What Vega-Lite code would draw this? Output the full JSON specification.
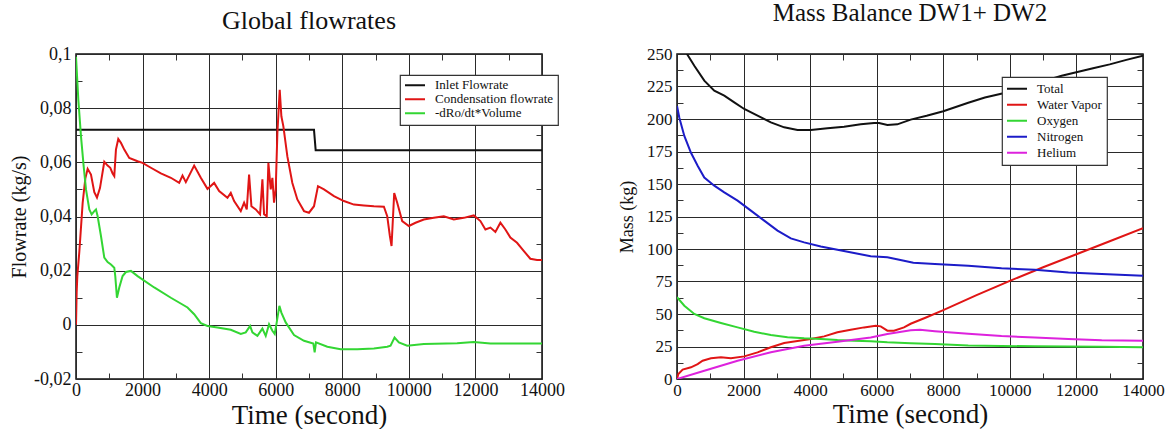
{
  "$schema": "https://vega.github.io/schema/vega-lite/v6.json",
  "padding": {"left": 8, "top": 0, "right": 0, "bottom": 0},
  "background": "white",
  "bounds": "flush",
  "spacing": 135,
  "resolve": {"scale": {"color": "independent"}, "legend": {"color": "independent"}},
  "config": {
    "font": "Liberation Serif",
    "locale": {"number": {"decimal": ",", "thousands": "", "grouping": [3], "currency": ["", ""], "minus": "-"}},
    "view": {"stroke": "#111111", "strokeWidth": 1.5},
    "axis": {"gridColor": "#2a2a2a", "gridOpacity": 1, "gridWidth": 1, "domain": false, "ticks": false, "labelColor": "#111111", "titleColor": "#111111", "titleFontWeight": "normal", "labelOverlap": false, "labelFlush": false, "tickColor": "#333333", "tickWidth": 1},
    "legend": {"fillColor": "white", "strokeColor": "#333333", "strokeWidth": 1.2, "cornerRadius": 0, "symbolType": "stroke", "symbolStrokeWidth": 2, "labelFont": "Liberation Serif", "labelColor": "#111111", "title": null},
    "title": {"fontWeight": "normal", "color": "#111111", "anchor": "middle"}
  },
  "datasets": {
    "flow": [
      {"s": "Inlet Flowrate", "t": 0, "v": 0.072},
      {"s": "Inlet Flowrate", "t": 7150, "v": 0.072},
      {"s": "Inlet Flowrate", "t": 7200, "v": 0.0645},
      {"s": "Inlet Flowrate", "t": 14000, "v": 0.0645},
      {"s": "Condensation flowrate", "t": 0, "v": 0},
      {"s": "Condensation flowrate", "t": 20, "v": 0.012},
      {"s": "Condensation flowrate", "t": 40, "v": 0.018},
      {"s": "Condensation flowrate", "t": 100, "v": 0.027},
      {"s": "Condensation flowrate", "t": 200, "v": 0.045},
      {"s": "Condensation flowrate", "t": 280, "v": 0.054},
      {"s": "Condensation flowrate", "t": 350, "v": 0.0576},
      {"s": "Condensation flowrate", "t": 450, "v": 0.0555},
      {"s": "Condensation flowrate", "t": 550, "v": 0.049},
      {"s": "Condensation flowrate", "t": 630, "v": 0.047},
      {"s": "Condensation flowrate", "t": 720, "v": 0.0505},
      {"s": "Condensation flowrate", "t": 850, "v": 0.0602},
      {"s": "Condensation flowrate", "t": 950, "v": 0.0588},
      {"s": "Condensation flowrate", "t": 1030, "v": 0.058},
      {"s": "Condensation flowrate", "t": 1100, "v": 0.0559},
      {"s": "Condensation flowrate", "t": 1150, "v": 0.0549},
      {"s": "Condensation flowrate", "t": 1200, "v": 0.0647},
      {"s": "Condensation flowrate", "t": 1270, "v": 0.0686},
      {"s": "Condensation flowrate", "t": 1350, "v": 0.0672},
      {"s": "Condensation flowrate", "t": 1450, "v": 0.0647},
      {"s": "Condensation flowrate", "t": 1600, "v": 0.0616},
      {"s": "Condensation flowrate", "t": 1850, "v": 0.0604},
      {"s": "Condensation flowrate", "t": 2000, "v": 0.0598},
      {"s": "Condensation flowrate", "t": 2250, "v": 0.058},
      {"s": "Condensation flowrate", "t": 2550, "v": 0.0559},
      {"s": "Condensation flowrate", "t": 2850, "v": 0.0543},
      {"s": "Condensation flowrate", "t": 3100, "v": 0.0524},
      {"s": "Condensation flowrate", "t": 3200, "v": 0.0551},
      {"s": "Condensation flowrate", "t": 3300, "v": 0.0527},
      {"s": "Condensation flowrate", "t": 3550, "v": 0.0588},
      {"s": "Condensation flowrate", "t": 3750, "v": 0.0543},
      {"s": "Condensation flowrate", "t": 3950, "v": 0.0502},
      {"s": "Condensation flowrate", "t": 4150, "v": 0.0524},
      {"s": "Condensation flowrate", "t": 4300, "v": 0.0494},
      {"s": "Condensation flowrate", "t": 4550, "v": 0.0469},
      {"s": "Condensation flowrate", "t": 4650, "v": 0.0487},
      {"s": "Condensation flowrate", "t": 4750, "v": 0.0457},
      {"s": "Condensation flowrate", "t": 4950, "v": 0.042},
      {"s": "Condensation flowrate", "t": 5050, "v": 0.0451},
      {"s": "Condensation flowrate", "t": 5130, "v": 0.0426},
      {"s": "Condensation flowrate", "t": 5200, "v": 0.0555},
      {"s": "Condensation flowrate", "t": 5270, "v": 0.0438},
      {"s": "Condensation flowrate", "t": 5400, "v": 0.0426},
      {"s": "Condensation flowrate", "t": 5530, "v": 0.0408},
      {"s": "Condensation flowrate", "t": 5600, "v": 0.0537},
      {"s": "Condensation flowrate", "t": 5650, "v": 0.0408},
      {"s": "Condensation flowrate", "t": 5730, "v": 0.0401},
      {"s": "Condensation flowrate", "t": 5780, "v": 0.0598},
      {"s": "Condensation flowrate", "t": 5850, "v": 0.05},
      {"s": "Condensation flowrate", "t": 5900, "v": 0.0543},
      {"s": "Condensation flowrate", "t": 5950, "v": 0.0451},
      {"s": "Condensation flowrate", "t": 6000, "v": 0.05},
      {"s": "Condensation flowrate", "t": 6050, "v": 0.0708},
      {"s": "Condensation flowrate", "t": 6120, "v": 0.0868},
      {"s": "Condensation flowrate", "t": 6170, "v": 0.077},
      {"s": "Condensation flowrate", "t": 6230, "v": 0.0733},
      {"s": "Condensation flowrate", "t": 6350, "v": 0.0622},
      {"s": "Condensation flowrate", "t": 6500, "v": 0.0524},
      {"s": "Condensation flowrate", "t": 6650, "v": 0.0463},
      {"s": "Condensation flowrate", "t": 6850, "v": 0.042},
      {"s": "Condensation flowrate", "t": 7000, "v": 0.0414},
      {"s": "Condensation flowrate", "t": 7150, "v": 0.0438},
      {"s": "Condensation flowrate", "t": 7270, "v": 0.0512},
      {"s": "Condensation flowrate", "t": 7450, "v": 0.05},
      {"s": "Condensation flowrate", "t": 7750, "v": 0.0475},
      {"s": "Condensation flowrate", "t": 8050, "v": 0.0457},
      {"s": "Condensation flowrate", "t": 8350, "v": 0.0444},
      {"s": "Condensation flowrate", "t": 8650, "v": 0.0441},
      {"s": "Condensation flowrate", "t": 8950, "v": 0.0438},
      {"s": "Condensation flowrate", "t": 9250, "v": 0.0436},
      {"s": "Condensation flowrate", "t": 9350, "v": 0.0401},
      {"s": "Condensation flowrate", "t": 9430, "v": 0.0328},
      {"s": "Condensation flowrate", "t": 9480, "v": 0.0291},
      {"s": "Condensation flowrate", "t": 9560, "v": 0.0487},
      {"s": "Condensation flowrate", "t": 9650, "v": 0.0451},
      {"s": "Condensation flowrate", "t": 9800, "v": 0.0383},
      {"s": "Condensation flowrate", "t": 10000, "v": 0.0365},
      {"s": "Condensation flowrate", "t": 10200, "v": 0.0377},
      {"s": "Condensation flowrate", "t": 10450, "v": 0.0389},
      {"s": "Condensation flowrate", "t": 10750, "v": 0.0395},
      {"s": "Condensation flowrate", "t": 11050, "v": 0.0401},
      {"s": "Condensation flowrate", "t": 11350, "v": 0.0389},
      {"s": "Condensation flowrate", "t": 11650, "v": 0.0395},
      {"s": "Condensation flowrate", "t": 11950, "v": 0.0404},
      {"s": "Condensation flowrate", "t": 12150, "v": 0.0383},
      {"s": "Condensation flowrate", "t": 12300, "v": 0.0352},
      {"s": "Condensation flowrate", "t": 12450, "v": 0.0359},
      {"s": "Condensation flowrate", "t": 12600, "v": 0.0343},
      {"s": "Condensation flowrate", "t": 12750, "v": 0.0377},
      {"s": "Condensation flowrate", "t": 12900, "v": 0.0352},
      {"s": "Condensation flowrate", "t": 13050, "v": 0.0322},
      {"s": "Condensation flowrate", "t": 13250, "v": 0.0303},
      {"s": "Condensation flowrate", "t": 13450, "v": 0.0273},
      {"s": "Condensation flowrate", "t": 13650, "v": 0.0244},
      {"s": "Condensation flowrate", "t": 13850, "v": 0.0239},
      {"s": "Condensation flowrate", "t": 14000, "v": 0.0239},
      {"s": "-dRo/dt*Volume", "t": 0, "v": 0.099},
      {"s": "-dRo/dt*Volume", "t": 70, "v": 0.0831},
      {"s": "-dRo/dt*Volume", "t": 150, "v": 0.0696},
      {"s": "-dRo/dt*Volume", "t": 230, "v": 0.0586},
      {"s": "-dRo/dt*Volume", "t": 300, "v": 0.05},
      {"s": "-dRo/dt*Volume", "t": 400, "v": 0.0426},
      {"s": "-dRo/dt*Volume", "t": 470, "v": 0.0408},
      {"s": "-dRo/dt*Volume", "t": 550, "v": 0.042},
      {"s": "-dRo/dt*Volume", "t": 600, "v": 0.0426},
      {"s": "-dRo/dt*Volume", "t": 650, "v": 0.0401},
      {"s": "-dRo/dt*Volume", "t": 750, "v": 0.0328},
      {"s": "-dRo/dt*Volume", "t": 850, "v": 0.0248},
      {"s": "-dRo/dt*Volume", "t": 950, "v": 0.0232},
      {"s": "-dRo/dt*Volume", "t": 1050, "v": 0.0223},
      {"s": "-dRo/dt*Volume", "t": 1150, "v": 0.0211},
      {"s": "-dRo/dt*Volume", "t": 1180, "v": 0.018},
      {"s": "-dRo/dt*Volume", "t": 1230, "v": 0.01},
      {"s": "-dRo/dt*Volume", "t": 1300, "v": 0.0138},
      {"s": "-dRo/dt*Volume", "t": 1400, "v": 0.018},
      {"s": "-dRo/dt*Volume", "t": 1500, "v": 0.0195},
      {"s": "-dRo/dt*Volume", "t": 1650, "v": 0.0199},
      {"s": "-dRo/dt*Volume", "t": 1850, "v": 0.018},
      {"s": "-dRo/dt*Volume", "t": 2350, "v": 0.0138},
      {"s": "-dRo/dt*Volume", "t": 2850, "v": 0.01},
      {"s": "-dRo/dt*Volume", "t": 3350, "v": 0.0064},
      {"s": "-dRo/dt*Volume", "t": 3550, "v": 0.0039},
      {"s": "-dRo/dt*Volume", "t": 3750, "v": 0.0006},
      {"s": "-dRo/dt*Volume", "t": 3950, "v": -0.0004},
      {"s": "-dRo/dt*Volume", "t": 4250, "v": -0.001},
      {"s": "-dRo/dt*Volume", "t": 4650, "v": -0.0018},
      {"s": "-dRo/dt*Volume", "t": 4950, "v": -0.0034},
      {"s": "-dRo/dt*Volume", "t": 5100, "v": -0.0028},
      {"s": "-dRo/dt*Volume", "t": 5230, "v": -0.0004},
      {"s": "-dRo/dt*Volume", "t": 5300, "v": -0.0028},
      {"s": "-dRo/dt*Volume", "t": 5450, "v": -0.0041},
      {"s": "-dRo/dt*Volume", "t": 5600, "v": -0.0014},
      {"s": "-dRo/dt*Volume", "t": 5700, "v": -0.0041},
      {"s": "-dRo/dt*Volume", "t": 5800, "v": 0.0002},
      {"s": "-dRo/dt*Volume", "t": 5900, "v": -0.0022},
      {"s": "-dRo/dt*Volume", "t": 5970, "v": -0.0034},
      {"s": "-dRo/dt*Volume", "t": 6030, "v": 0.0009},
      {"s": "-dRo/dt*Volume", "t": 6110, "v": 0.007},
      {"s": "-dRo/dt*Volume", "t": 6170, "v": 0.0045},
      {"s": "-dRo/dt*Volume", "t": 6300, "v": 0.0009},
      {"s": "-dRo/dt*Volume", "t": 6550, "v": -0.0038},
      {"s": "-dRo/dt*Volume", "t": 6850, "v": -0.0059},
      {"s": "-dRo/dt*Volume", "t": 7130, "v": -0.0069},
      {"s": "-dRo/dt*Volume", "t": 7170, "v": -0.0102},
      {"s": "-dRo/dt*Volume", "t": 7210, "v": -0.0065},
      {"s": "-dRo/dt*Volume", "t": 7550, "v": -0.0081},
      {"s": "-dRo/dt*Volume", "t": 7950, "v": -0.009},
      {"s": "-dRo/dt*Volume", "t": 8450, "v": -0.009},
      {"s": "-dRo/dt*Volume", "t": 8950, "v": -0.0087},
      {"s": "-dRo/dt*Volume", "t": 9350, "v": -0.0081},
      {"s": "-dRo/dt*Volume", "t": 9450, "v": -0.0077},
      {"s": "-dRo/dt*Volume", "t": 9570, "v": -0.0047},
      {"s": "-dRo/dt*Volume", "t": 9700, "v": -0.0065},
      {"s": "-dRo/dt*Volume", "t": 9950, "v": -0.0077},
      {"s": "-dRo/dt*Volume", "t": 10450, "v": -0.0071},
      {"s": "-dRo/dt*Volume", "t": 11450, "v": -0.0068},
      {"s": "-dRo/dt*Volume", "t": 11950, "v": -0.0063},
      {"s": "-dRo/dt*Volume", "t": 12450, "v": -0.0069},
      {"s": "-dRo/dt*Volume", "t": 14000, "v": -0.0069}
    ],
    "mass": [
      {"s": "Total", "t": 0, "v": 262},
      {"s": "Total", "t": 300, "v": 250},
      {"s": "Total", "t": 520, "v": 241},
      {"s": "Total", "t": 820, "v": 229.5},
      {"s": "Total", "t": 1120, "v": 221.8},
      {"s": "Total", "t": 1420, "v": 218},
      {"s": "Total", "t": 1720, "v": 212.8},
      {"s": "Total", "t": 2020, "v": 207.7},
      {"s": "Total", "t": 2420, "v": 202.6},
      {"s": "Total", "t": 2820, "v": 197.4},
      {"s": "Total", "t": 3220, "v": 193.6},
      {"s": "Total", "t": 3620, "v": 191.5},
      {"s": "Total", "t": 4020, "v": 191.5},
      {"s": "Total", "t": 4520, "v": 192.8},
      {"s": "Total", "t": 5020, "v": 194.1},
      {"s": "Total", "t": 5520, "v": 195.9},
      {"s": "Total", "t": 5920, "v": 196.9},
      {"s": "Total", "t": 6070, "v": 196.9},
      {"s": "Total", "t": 6320, "v": 195.4},
      {"s": "Total", "t": 6620, "v": 195.9},
      {"s": "Total", "t": 7020, "v": 199.5},
      {"s": "Total", "t": 7500, "v": 202.5},
      {"s": "Total", "t": 8000, "v": 206},
      {"s": "Total", "t": 8750, "v": 212.5},
      {"s": "Total", "t": 9250, "v": 216.5},
      {"s": "Total", "t": 10000, "v": 221},
      {"s": "Total", "t": 10500, "v": 225},
      {"s": "Total", "t": 11000, "v": 229},
      {"s": "Total", "t": 11557, "v": 233.3},
      {"s": "Total", "t": 12500, "v": 239},
      {"s": "Total", "t": 13000, "v": 242},
      {"s": "Total", "t": 13500, "v": 245.5},
      {"s": "Total", "t": 14000, "v": 248.7},
      {"s": "Water Vapor", "t": 0, "v": 0},
      {"s": "Water Vapor", "t": 40, "v": 3.8},
      {"s": "Water Vapor", "t": 170, "v": 7.2},
      {"s": "Water Vapor", "t": 420, "v": 9},
      {"s": "Water Vapor", "t": 620, "v": 11.5},
      {"s": "Water Vapor", "t": 770, "v": 14.1},
      {"s": "Water Vapor", "t": 1020, "v": 15.9},
      {"s": "Water Vapor", "t": 1320, "v": 16.7},
      {"s": "Water Vapor", "t": 1620, "v": 15.9},
      {"s": "Water Vapor", "t": 2020, "v": 17.4},
      {"s": "Water Vapor", "t": 2420, "v": 20.5},
      {"s": "Water Vapor", "t": 2820, "v": 24.4},
      {"s": "Water Vapor", "t": 3220, "v": 27.7},
      {"s": "Water Vapor", "t": 3620, "v": 29.2},
      {"s": "Water Vapor", "t": 4020, "v": 30.8},
      {"s": "Water Vapor", "t": 4420, "v": 32.8},
      {"s": "Water Vapor", "t": 4820, "v": 35.9},
      {"s": "Water Vapor", "t": 5220, "v": 37.9},
      {"s": "Water Vapor", "t": 5620, "v": 39.7},
      {"s": "Water Vapor", "t": 5970, "v": 41},
      {"s": "Water Vapor", "t": 6120, "v": 40.5},
      {"s": "Water Vapor", "t": 6320, "v": 37.2},
      {"s": "Water Vapor", "t": 6520, "v": 37.2},
      {"s": "Water Vapor", "t": 6820, "v": 39.7},
      {"s": "Water Vapor", "t": 7020, "v": 42.5},
      {"s": "Water Vapor", "t": 7500, "v": 47.5},
      {"s": "Water Vapor", "t": 8000, "v": 53},
      {"s": "Water Vapor", "t": 9000, "v": 64.5},
      {"s": "Water Vapor", "t": 10000, "v": 75.5},
      {"s": "Water Vapor", "t": 11000, "v": 86},
      {"s": "Water Vapor", "t": 12000, "v": 96},
      {"s": "Water Vapor", "t": 13000, "v": 106},
      {"s": "Water Vapor", "t": 14000, "v": 116},
      {"s": "Oxygen", "t": 0, "v": 63},
      {"s": "Oxygen", "t": 220, "v": 56.4},
      {"s": "Oxygen", "t": 520, "v": 50},
      {"s": "Oxygen", "t": 820, "v": 46.7},
      {"s": "Oxygen", "t": 1320, "v": 43.1},
      {"s": "Oxygen", "t": 1820, "v": 39.7},
      {"s": "Oxygen", "t": 2320, "v": 36.4},
      {"s": "Oxygen", "t": 2820, "v": 33.8},
      {"s": "Oxygen", "t": 3320, "v": 32.1},
      {"s": "Oxygen", "t": 3820, "v": 31.3},
      {"s": "Oxygen", "t": 4320, "v": 30.8},
      {"s": "Oxygen", "t": 4820, "v": 30},
      {"s": "Oxygen", "t": 5320, "v": 29.5},
      {"s": "Oxygen", "t": 5820, "v": 29},
      {"s": "Oxygen", "t": 6320, "v": 28.2},
      {"s": "Oxygen", "t": 7020, "v": 27.5},
      {"s": "Oxygen", "t": 7745, "v": 26.9},
      {"s": "Oxygen", "t": 8750, "v": 25.8},
      {"s": "Oxygen", "t": 10750, "v": 25.1},
      {"s": "Oxygen", "t": 12760, "v": 24.9},
      {"s": "Oxygen", "t": 14000, "v": 24.4},
      {"s": "Nitrogen", "t": 0, "v": 210},
      {"s": "Nitrogen", "t": 70, "v": 201},
      {"s": "Nitrogen", "t": 220, "v": 187},
      {"s": "Nitrogen", "t": 420, "v": 174},
      {"s": "Nitrogen", "t": 620, "v": 164},
      {"s": "Nitrogen", "t": 820, "v": 155},
      {"s": "Nitrogen", "t": 1120, "v": 148.7},
      {"s": "Nitrogen", "t": 1420, "v": 143.6},
      {"s": "Nitrogen", "t": 1820, "v": 137.2},
      {"s": "Nitrogen", "t": 2220, "v": 129.5},
      {"s": "Nitrogen", "t": 2620, "v": 121.8},
      {"s": "Nitrogen", "t": 3020, "v": 114.1},
      {"s": "Nitrogen", "t": 3420, "v": 108.2},
      {"s": "Nitrogen", "t": 3820, "v": 105.1},
      {"s": "Nitrogen", "t": 4320, "v": 102},
      {"s": "Nitrogen", "t": 4820, "v": 99.5},
      {"s": "Nitrogen", "t": 5320, "v": 96.9},
      {"s": "Nitrogen", "t": 5820, "v": 94.4},
      {"s": "Nitrogen", "t": 6320, "v": 93.6},
      {"s": "Nitrogen", "t": 6820, "v": 91},
      {"s": "Nitrogen", "t": 7100, "v": 89.5},
      {"s": "Nitrogen", "t": 7745, "v": 88.5},
      {"s": "Nitrogen", "t": 8750, "v": 87.2},
      {"s": "Nitrogen", "t": 9750, "v": 85.1},
      {"s": "Nitrogen", "t": 10750, "v": 84.1},
      {"s": "Nitrogen", "t": 11760, "v": 82},
      {"s": "Nitrogen", "t": 12760, "v": 80.8},
      {"s": "Nitrogen", "t": 14000, "v": 79.5},
      {"s": "Helium", "t": 0, "v": 0},
      {"s": "Helium", "t": 820, "v": 6.4},
      {"s": "Helium", "t": 1820, "v": 14.1},
      {"s": "Helium", "t": 2820, "v": 20.5},
      {"s": "Helium", "t": 3820, "v": 25.6},
      {"s": "Helium", "t": 4820, "v": 28.7},
      {"s": "Helium", "t": 5820, "v": 32},
      {"s": "Helium", "t": 6320, "v": 34.6},
      {"s": "Helium", "t": 7020, "v": 37.5},
      {"s": "Helium", "t": 7300, "v": 37.8},
      {"s": "Helium", "t": 7745, "v": 36.8},
      {"s": "Helium", "t": 8750, "v": 34.8},
      {"s": "Helium", "t": 9750, "v": 33},
      {"s": "Helium", "t": 10750, "v": 32},
      {"s": "Helium", "t": 11760, "v": 30.8},
      {"s": "Helium", "t": 12760, "v": 29.8},
      {"s": "Helium", "t": 14000, "v": 29.5}
    ]
  },
  "hconcat": [
    {
      "width": 466,
      "height": 325,
      "title": {"text": "Global flowrates", "fontSize": 26, "offset": 11},
      "data": {"name": "flow"},
      "layer": [
        {
          "mark": {"type": "line", "strokeWidth": 2, "clip": true},
          "encoding": {
            "x": {"field": "t", "type": "quantitative", "scale": {"domain": [0, 14000], "nice": false, "zero": false},
              "axis": {"orient": "bottom", "values": [0, 2000, 4000, 6000, 8000, 10000, 12000, 14000], "format": "d", "grid": true, "labelFontSize": 18, "labelPadding": 2, "title": "Time (second)", "titleFontSize": 27, "titlePadding": 3}},
            "y": {"field": "v", "type": "quantitative", "scale": {"domain": [-0.02, 0.1], "nice": false, "zero": false},
              "axis": {"orient": "left", "values": [-0.02, 0, 0.02, 0.04, 0.06, 0.08, 0.1], "format": ".2~f", "grid": true, "labelFontSize": 18, "labelPadding": 5, "title": "Flowrate (kg/s)", "titleFontSize": 20, "titlePadding": 4}},
            "color": {"field": "s", "type": "nominal",
              "scale": {"domain": ["Inlet Flowrate", "Condensation flowrate", "-dRo/dt*Volume"], "range": ["#111111", "#e01515", "#33d633"]},
              "legend": {"orient": "none", "legendX": 324, "legendY": 21, "labelFontSize": 13, "symbolSize": 400, "clipHeight": 12.5, "rowPadding": 0, "padding": 4, "labelOffset": 9}}
          }
        },
        {
          "mark": {"type": "line", "opacity": 0},
          "encoding": {
            "x": {"field": "t", "type": "quantitative", "axis": {"orient": "top", "values": [1000, 3000, 5000, 7000, 9000, 11000, 13000], "ticks": true, "tickSize": -6, "labels": false, "grid": false, "title": null}},
            "y": {"field": "v", "type": "quantitative", "axis": {"orient": "right", "values": [-0.01, 0.01, 0.03, 0.05, 0.07, 0.09], "ticks": true, "tickSize": -6, "labels": false, "grid": false, "title": null}},
            "detail": {"field": "s"}
          }
        },
        {
          "mark": {"type": "line", "opacity": 0},
          "encoding": {
            "x": {"field": "t", "type": "quantitative", "axis": {"orient": "bottom", "values": [1000, 3000, 5000, 7000, 9000, 11000, 13000], "ticks": true, "tickSize": -6, "labels": false, "grid": false, "title": null}},
            "y": {"field": "v", "type": "quantitative", "axis": {"orient": "left", "values": [-0.01, 0.01, 0.03, 0.05, 0.07, 0.09], "ticks": true, "tickSize": -6, "labels": false, "grid": false, "title": null}},
            "detail": {"field": "s"}
          }
        }
      ],
      "resolve": {"axis": {"x": "independent", "y": "independent"}}
    },
    {
      "width": 466,
      "height": 325,
      "title": {"text": "Mass Balance DW1+ DW2", "fontSize": 25, "offset": 12},
      "data": {"name": "mass"},
      "layer": [
        {
          "mark": {"type": "line", "strokeWidth": 2, "clip": true},
          "encoding": {
            "x": {"field": "t", "type": "quantitative", "scale": {"domain": [0, 14000], "nice": false, "zero": false},
              "axis": {"orient": "bottom", "values": [0, 2000, 4000, 6000, 8000, 10000, 12000, 14000], "format": "d", "grid": true, "labelFontSize": 17, "labelPadding": 3, "title": "Time (second)", "titleFontSize": 27, "titlePadding": 3}},
            "y": {"field": "v", "type": "quantitative", "scale": {"domain": [0, 250], "nice": false, "zero": false},
              "axis": {"orient": "left", "values": [0, 25, 50, 75, 100, 125, 150, 175, 200, 225, 250], "format": "d", "grid": true, "labelFontSize": 17, "labelPadding": 5, "title": "Mass (kg)", "titleFontSize": 18, "titlePadding": 10}},
            "color": {"field": "s", "type": "nominal",
              "scale": {"domain": ["Total", "Water Vapor", "Oxygen", "Nitrogen", "Helium"], "range": ["#111111", "#e01515", "#33d633", "#1c1cc8", "#dd22dd"]},
              "legend": {"orient": "none", "legendX": 325, "legendY": 23, "labelFontSize": 13, "symbolSize": 400, "clipHeight": 15.5, "rowPadding": 0, "padding": 4, "labelOffset": 9}}
          }
        },
        {
          "mark": {"type": "line", "opacity": 0},
          "encoding": {
            "x": {"field": "t", "type": "quantitative", "axis": {"orient": "top", "values": [1000, 3000, 5000, 7000, 9000, 11000, 13000], "ticks": true, "tickSize": -6, "labels": false, "grid": false, "title": null}},
            "y": {"field": "v", "type": "quantitative", "axis": {"orient": "right", "values": [12.5, 37.5, 62.5, 87.5, 112.5, 137.5, 162.5, 187.5, 212.5, 237.5], "ticks": true, "tickSize": -6, "labels": false, "grid": false, "title": null}},
            "detail": {"field": "s"}
          }
        },
        {
          "mark": {"type": "line", "opacity": 0},
          "encoding": {
            "x": {"field": "t", "type": "quantitative", "axis": {"orient": "bottom", "values": [1000, 3000, 5000, 7000, 9000, 11000, 13000], "ticks": true, "tickSize": -6, "labels": false, "grid": false, "title": null}},
            "y": {"field": "v", "type": "quantitative", "axis": {"orient": "left", "values": [12.5, 37.5, 62.5, 87.5, 112.5, 137.5, 162.5, 187.5, 212.5, 237.5], "ticks": true, "tickSize": -6, "labels": false, "grid": false, "title": null}},
            "detail": {"field": "s"}
          }
        }
      ],
      "resolve": {"axis": {"x": "independent", "y": "independent"}}
    }
  ]
}
